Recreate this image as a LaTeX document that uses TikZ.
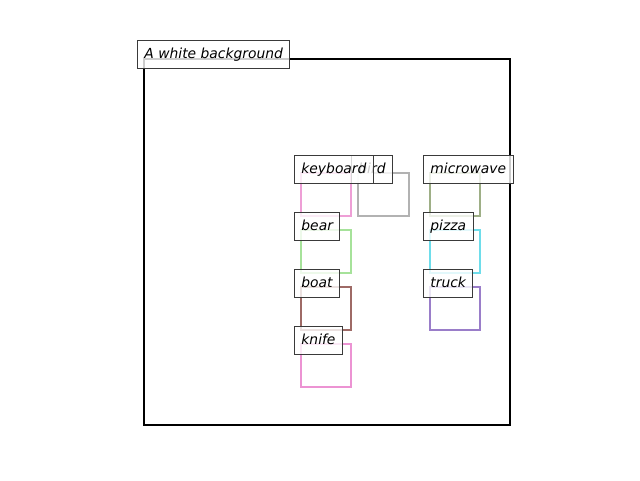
\documentclass[tikz,border=0pt]{standalone}
\usepackage{fontspec}
\setmainfont{DejaVu Sans}
\definecolor{ckeyboard}{HTML}{EE9FD6}
\definecolor{cbird}{HTML}{B2B2B2}
\definecolor{cmicro}{HTML}{9EAF86}
\definecolor{cbear}{HTML}{A6E29A}
\definecolor{cpizza}{HTML}{6EDDEB}
\definecolor{cboat}{HTML}{9E6A66}
\definecolor{ctruck}{HTML}{9A7DC9}
\definecolor{cknife}{HTML}{EC93D3}
\definecolor{lbledge}{HTML}{3A3A3A}
\tikzset{
  lbl/.style={anchor=north west, draw=lbledge, line width=0.75pt, fill=white, fill opacity=0.8, text opacity=1,
    inner xsep=5.2pt, inner ysep=5.25pt, text height=8pt, text depth=2.5pt,
    font=\fontsize{10.4}{12}\selectfont\itshape},
  objbox/.style={line width=1.5pt}
}
\begin{document}
\begin{tikzpicture}[x=0.75pt,y=-0.75pt]
\useasboundingbox (0,0) rectangle (640,480);
% frame
\draw[line width=1.5pt] (144,59) rectangle (510,425);
% object boxes
\draw[objbox,ckeyboard] (301,173) rectangle (351,216);
\draw[objbox,cbird] (358,173) rectangle (409,216);
\draw[objbox,cmicro] (430,173) rectangle (480,216);
\draw[objbox,cbear] (301,230) rectangle (351,273);
\draw[objbox,cpizza] (430,230) rectangle (480,273);
\draw[objbox,cboat] (301,287) rectangle (351,330);
\draw[objbox,ctruck] (430,287) rectangle (480,330);
\draw[objbox,cknife] (301,344) rectangle (351,387);
% labels
\node[lbl] (title) at (137,40) {A white background};
\node[lbl] (bird) at (351,155) {bird};
\node[lbl] (keyboard) at (294,155) {keyboard};
\node[lbl] (microwave) at (423,155) {microwave};
\node[lbl] (bear) at (294,212) {bear};
\node[lbl] (pizza) at (423,212) {pizza};
\node[lbl] (boat) at (294,269) {boat};
\node[lbl] (truck) at (423,269) {truck};
\node[lbl] (knife) at (294,326) {knife};
\end{tikzpicture}
\end{document}
